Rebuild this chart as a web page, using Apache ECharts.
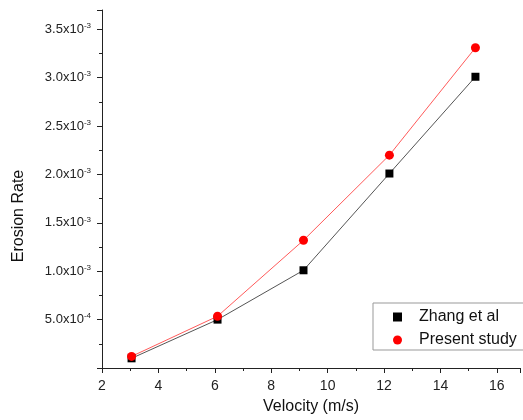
<!DOCTYPE html>
<html>
<head>
<meta charset="utf-8">
<script src="https://cdn.jsdelivr.net/npm/echarts@6/dist/echarts.min.js"></script>
<style>html,body{margin:0;padding:0;background:#fff}#c{width:523px;height:420px}</style>
</head>
<body>
<div id="c"></div>
<script>
var velocity = [3.048, 6.096, 9.144, 12.19, 15.24];
var zhang = [0.10e-3, 0.50e-3, 1.01e-3, 2.01e-3, 3.01e-3];
var present = [0.12e-3, 0.535e-3, 1.32e-3, 2.20e-3, 3.31e-3];
var seriesNames = ['Zhang et al', 'Present study'];
var xTickLabels = [2, 4, 6, 8, 10, 12, 14, 16];

function pairs(xs, ys) { return xs.map(function (x, i) { return [x, ys[i]]; }); }
function yFmt(v) {
  if (v <= 0) return '';
  var r = Math.round(v / 0.5e-3 * 1000) / 1000;
  if (Math.abs(r - Math.round(r)) > 1e-6) return '';
  var e = Math.floor(Math.log10(v) + 1e-9);
  var m = (v / Math.pow(10, e)).toFixed(1);
  return '{b|' + m + 'x10}{s|' + e + '}';
}
var font = 'Liberation Sans, Arial, sans-serif';
var chart = echarts.init(document.getElementById('c'));
chart.setOption({
  backgroundColor: '#fff',
  animation: false,
  textStyle: { fontFamily: font },
  grid: { left: 102, right: 0, top: 10, bottom: 47.5, containLabel: false },
  legend: {
    orient: 'vertical', left: 373, top: 303,
    borderColor: '#999', borderWidth: 1, borderRadius: 0,
    padding: [5, 30, 1, 20], itemGap: 5, itemWidth: 9, itemHeight: 9,
    textStyle: { fontSize: 16, color: '#111', fontFamily: font, padding: [0, 0, 0, 12], lineHeight: 18 },
    data: [{ name: seriesNames[0], icon: 'rect' }, { name: seriesNames[1], icon: 'circle' }]
  },
  xAxis: [{
    type: 'value', min: 2, max: 16.82, interval: 2,
    name: 'Velocity (m/s)', nameLocation: 'middle', nameGap: 31,
    nameTextStyle: { fontSize: 16, color: '#111', fontFamily: font },
    axisLine: { lineStyle: { color: '#222', width: 1 } },
    axisTick: { length: 5, lineStyle: { color: '#222' } },
    splitLine: { show: false },
    axisLabel: { fontSize: 14, color: '#222', margin: 11,
      formatter: function (v) { return xTickLabels.indexOf(v) >= 0 ? String(v) : ''; } }
  }, {
    type: 'value', min: 2, max: 16.82, interval: 1, position: 'bottom', offset: 0,
    axisLine: { show: false },
    axisTick: { length: 3, lineStyle: { color: '#222' } },
    splitLine: { show: false },
    axisLabel: { show: false }
  }],
  yAxis: [{
    type: 'value', min: 0, max: 3.7e-3, interval: 0.5e-3, position: 'left',
    name: 'Erosion Rate', nameLocation: 'middle', nameGap: 75,
    nameTextStyle: { fontSize: 16, color: '#111', fontFamily: font, padding: [0, 54, 0, 0] },
    axisLine: { show: true, lineStyle: { color: '#222', width: 1 } },
    axisTick: { show: true, length: 5, lineStyle: { color: '#222' } },
    splitLine: { show: false },
    axisLabel: { margin: 11, color: '#222', formatter: yFmt,
      rich: {
        b: { fontSize: 13, color: '#222', fontFamily: font },
        s: { fontSize: 8, color: '#222', fontFamily: font, verticalAlign: 'top', padding: [0, 0, 7, 0] }
      } }
  }, {
    type: 'value', min: 0, max: 3.7e-3, interval: 0.25e-3, position: 'left', offset: 0,
    axisLine: { show: false },
    axisTick: { show: true, length: 3, lineStyle: { color: '#222' } },
    splitLine: { show: false },
    axisLabel: { show: false }
  }],
  series: [{
    name: seriesNames[0], type: 'line', xAxisIndex: 0, yAxisIndex: 0,
    data: pairs(velocity, zhang),
    symbol: 'rect', symbolSize: 8,
    itemStyle: { color: '#000' },
    lineStyle: { color: '#555', width: 1 }
  }, {
    name: seriesNames[1], type: 'line', xAxisIndex: 0, yAxisIndex: 0,
    data: pairs(velocity, present),
    symbol: 'circle', symbolSize: 9,
    itemStyle: { color: '#ff0000' },
    lineStyle: { color: '#ff5a5a', width: 1 }
  }]
});
</script>
</body>
</html>
